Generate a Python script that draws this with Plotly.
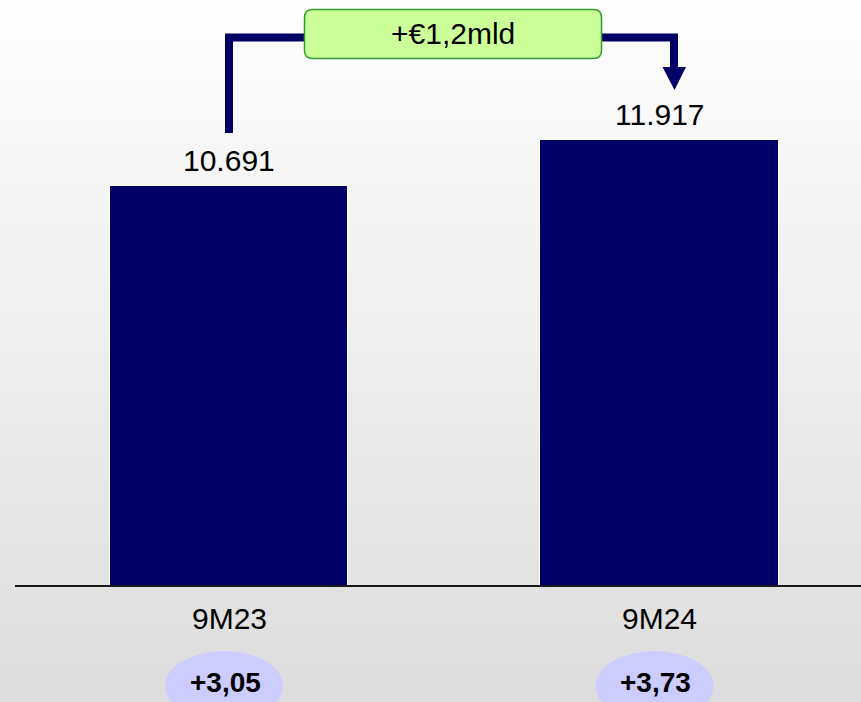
import plotly.graph_objects as go

# ---- data ----
categories = ["9M23", "9M24"]
values = [10691, 11917]
change_labels = ["+3,05", "+3,73"]
delta_label = "+€1,2mld"

value_labels = [f"{v:,}".replace(",", ".") for v in values]

W, H = 861, 702
FONT = "Liberation Sans, Arial, sans-serif"
NAVY = "#000066"


def px(x):
    return x / W


def py(y):
    return 1 - y / H


fig = go.Figure()
fig.add_trace(go.Bar(
    x=list(range(len(categories))),
    y=values,
    width=0.553,
    marker=dict(color=NAVY, line=dict(color="white", width=1)),
    hoverinfo="skip",
))

shapes = []
# gradient background (slightly overlapping bands to avoid seams)
n = 70
for i in range(n):
    t = i / (n - 1)
    c = int(round(254 + (221 - 254) * t))
    shapes.append(dict(type="rect", xref="paper", yref="paper",
                       x0=-0.01, x1=1.01, y0=1 - (i + 1) / n - 0.004, y1=1 - i / n,
                       fillcolor=f"rgb({c},{c},{c})", line=dict(width=0),
                       layer="below"))

# baseline
shapes.append(dict(type="line", xref="paper", yref="y", x0=px(15), x1=1,
                   y0=0, y1=0, line=dict(color="#1a1a1a", width=2), layer="above"))

# connector
shapes.append(dict(type="path", xref="paper", yref="paper",
                   path=f"M {px(229)},{py(133)} L {px(229)},{py(37.5)} L {px(674)},{py(37.5)} L {px(674)},{py(70)}",
                   line=dict(color=NAVY, width=8), layer="above"))
# arrowhead
shapes.append(dict(type="path", xref="paper", yref="paper",
                   path=f"M {px(662.5)},{py(67)} L {px(686)},{py(67)} L {px(674.5)},{py(90)} Z",
                   fillcolor=NAVY, line=dict(color=NAVY, width=0), layer="above"))

# rounded green box
x0, x1, y0, y1, r = 304.5, 601.5, 9.5, 58.5, 8
path = (f"M {px(x0 + r)},{py(y0)} L {px(x1 - r)},{py(y0)} "
        f"Q {px(x1)},{py(y0)} {px(x1)},{py(y0 + r)} L {px(x1)},{py(y1 - r)} "
        f"Q {px(x1)},{py(y1)} {px(x1 - r)},{py(y1)} L {px(x0 + r)},{py(y1)} "
        f"Q {px(x0)},{py(y1)} {px(x0)},{py(y1 - r)} L {px(x0)},{py(y0 + r)} "
        f"Q {px(x0)},{py(y0)} {px(x0 + r)},{py(y0)} Z")
shapes.append(dict(type="path", xref="paper", yref="paper", path=path,
                   fillcolor="#ccff99", line=dict(color="#2e9e2e", width=1.5),
                   layer="above"))

# ellipses
ellipse_cx = (224, 654.5)
for cx in ellipse_cx:
    shapes.append(dict(type="circle", xref="paper", yref="paper",
                       x0=px(cx - 59), x1=px(cx + 59), y0=py(721), y1=py(651),
                       fillcolor="#ccccff", line=dict(width=0), layer="above"))

annotations = []
for i, (cat, v, vl, cl) in enumerate(zip(categories, values, value_labels, change_labels)):
    annotations.append(dict(x=i, y=v, xref="x", yref="y", text=vl, showarrow=False,
                            xanchor="center", yanchor="middle", yshift=25,
                            font=dict(family=FONT, size=30, color="black")))
    annotations.append(dict(x=i, y=0, xref="x", yref="y", text=cat, showarrow=False,
                            xanchor="center", yanchor="middle", yshift=-32,
                            font=dict(family=FONT, size=30, color="black")))
    annotations.append(dict(x=px(ellipse_cx[i] + 1), y=py(682), xref="paper", yref="paper",
                            text=f"<b>{cl}</b>", showarrow=False,
                            xanchor="center", yanchor="middle",
                            font=dict(family=FONT, size=28, color="black")))

annotations.append(dict(x=px(453), y=py(34), xref="paper", yref="paper",
                        text=delta_label, showarrow=False,
                        xanchor="center", yanchor="middle",
                        font=dict(family=FONT, size=30, color="black")))

units_per_px = 26.695
fig.update_layout(
    width=W, height=H,
    margin=dict(l=0, r=0, t=0, b=0),
    paper_bgcolor="#dddddd",
    plot_bgcolor="rgba(0,0,0,0)",
    showlegend=False,
    bargap=0,
    xaxis=dict(range=[-229 / 430.5, (W - 229) / 430.5], visible=False, fixedrange=True),
    yaxis=dict(range=[-(H - 586) * units_per_px, 586 * units_per_px], visible=False,
               fixedrange=True),
    shapes=shapes,
    annotations=annotations,
)

fig.write_html("out.html", config={"displayModeBar": False},
               post_script="document.body.style.margin='0px';document.body.style.overflow='hidden';")
